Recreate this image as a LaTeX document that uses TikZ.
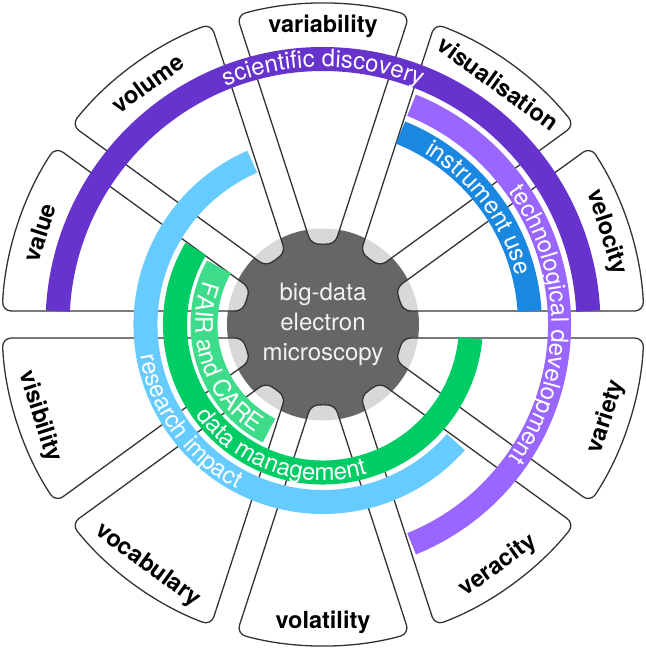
\documentclass[tikz,border=0pt]{standalone}
\usepackage{fontspec}
\setmainfont{TeX Gyre Heros}
\usetikzlibrary{decorations.text}
\definecolor{discovery}{HTML}{6633CC}
\definecolor{techdev}{HTML}{9966FF}
\definecolor{instrument}{HTML}{1A88E0}
\definecolor{impact}{HTML}{66CCFF}
\definecolor{datamgmt}{HTML}{00CC66}
\definecolor{fair}{HTML}{3DDC8A}
\definecolor{hubgrey}{HTML}{666666}
\newcommand\bandfont{\fontsize{24}{24}\selectfont}
\tikzset{>=latex,
  petal/.style={draw=black!80, line width=1.3pt, fill=white, fill opacity=0.75, rounded corners=9pt},
  vlabel/.style={font=\fontsize{23.5}{24}\selectfont\bfseries},
  band/.style={line width=24pt},
  bandtext/.style={decorate, decoration={text along path, text align=center, text color=white}}
}

\begin{document}
\begin{tikzpicture}[x=1pt, y=1pt, line join=round]
    \useasboundingbox (-323,-324.5) rectangle (323,324.5);
    \fill[hubgrey] (0,0) circle (96);

    % upper petals read clockwise, lower ones anticlockwise
    \foreach \a/\word in {18/velocity, 54/visualisation, 90/variability, 126/volume, 162/value}
    {
    \draw[petal, rotate=\a] (15.59:321) arc[start angle=15.59, end angle=-15.59, radius=321]
        -- (-8.29:80) arc[start angle=-8.29, end angle=8.29, radius=80] -- cycle;
    \node[vlabel, rotate=\a-90] (\word) at (\a:298) {\word};
    }
    \foreach \a/\word in {198/visibility, 234/vocabulary, 270/volatility, 306/veracity, 342/variety}
    {
    \draw[petal, rotate=\a] (15.59:321) arc[start angle=15.59, end angle=-15.59, radius=321]
        -- (-8.29:80) arc[start angle=-8.29, end angle=8.29, radius=80] -- cycle;
    \node[vlabel, rotate=\a+90] (\word) at (\a:298) {\word};
    }

    \draw[band, discovery] (177.1:265.5) arc[start angle=177.1, end angle=2.9, radius=265.5];
    \draw[band, techdev, line width=23pt] (68:236.5) arc[start angle=68, end angle=-68, radius=236.5];
    \draw[band, instrument] (68:207) arc[start angle=68, end angle=3.7, radius=207];
    \draw[band, impact] (113.5:177.5) arc[start angle=113.5, end angle=318.5, radius=177.5];
    \draw[band, datamgmt] (149.3:148) arc[start angle=149.3, end angle=354.7, radius=148];
    \draw[band, fair, line width=27pt] (151:119) arc[start angle=151, end angle=243, radius=119];

    \path[bandtext, decoration={text={|\bandfont|scientific discovery}}]
        (140:257.5) arc[start angle=140, end angle=40, radius=257.5];
    \path[bandtext, decoration={text={|\bandfont|technological development}}]
        (60:228.5) arc[start angle=60, end angle=-60, radius=228.5];
    \path[bandtext, decoration={text={|\bandfont|instrument use}}]
        (66:199) arc[start angle=66, end angle=7.5, radius=199];
    \path[bandtext, decoration={text={|\bandfont|research impact}}]
        (180:185.5) arc[start angle=180, end angle=252, radius=185.5];
    \path[bandtext, decoration={text={|\bandfont|data management}}]
        (211:156) arc[start angle=211, end angle=291, radius=156];
    \path[bandtext, decoration={text={|\bandfont|FAIR and CARE}}]
        (155:127.5) arc[start angle=155, end angle=243, radius=127.5];

    \node[align=center, text=white!95!black, font=\fontsize{24}{30}\selectfont] (hub) at (0,0)
        {big-data\\electron\\microscopy};
\end{tikzpicture}
\end{document}
